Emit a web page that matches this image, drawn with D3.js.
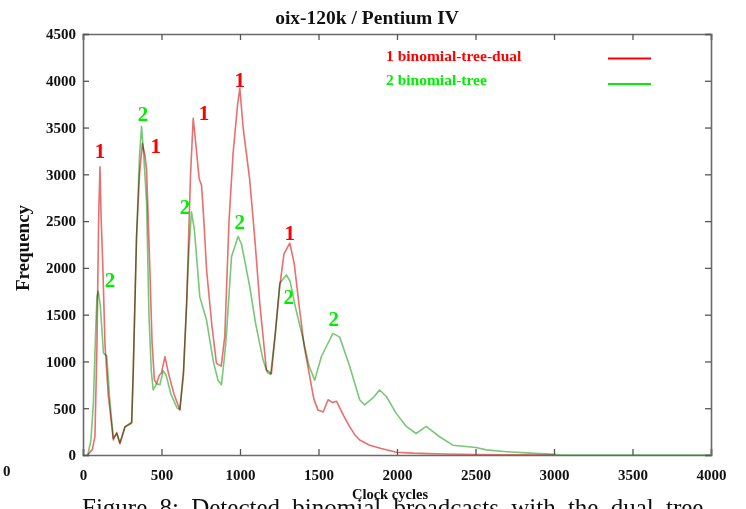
<!DOCTYPE html>
<html>
<head>
<meta charset="utf-8">
<script src="https://cdn.jsdelivr.net/npm/d3@7/dist/d3.min.js"></script>
<style>
  body { margin: 0; background: #fff; }
  svg { display: block; }
  text { font-family: "Liberation Serif", "Times New Roman", serif; }
</style>
</head>
<body>
<svg id="chart" width="746" height="509"></svg>
<script>
// series 1: binomial-tree-dual (red)
var dualCycles = [30, 60, 76, 89, 100, 108, 115, 127, 140, 161, 193, 215, 235, 250, 267, 310, 320, 341, 360, 378, 395, 405, 426, 440, 455, 469, 485, 500, 522, 545, 580, 617, 640, 660, 685, 702, 720, 740, 755, 770, 787, 820, 850, 880, 903, 930, 956, 985, 999, 1020, 1062, 1095, 1126, 1168, 1200, 1225, 1253, 1280, 1317, 1345, 1380, 1410, 1444, 1470, 1497, 1530, 1561, 1590, 1614, 1660, 1699, 1730, 1762, 1826, 1900, 1995, 2100, 2200, 2300, 2500, 2800, 3000];
var dualFreq   = [0, 60, 200, 1180, 2560, 3080, 2560, 1980, 1180, 640, 160, 240, 120, 200, 300, 350, 900, 2330, 3000, 3330, 3200, 3045, 1980, 1200, 800, 765, 850, 880, 1050, 870, 650, 480, 900, 1620, 3000, 3600, 3300, 2950, 2885, 2500, 1980, 1400, 980, 950, 1265, 2500, 3225, 3750, 3920, 3500, 2940, 2300, 1620, 910, 870, 1300, 1800, 2150, 2265, 2050, 1550, 1150, 840, 600, 480, 460, 590, 560, 575, 420, 300, 220, 160, 105, 70, 30, 20, 15, 10, 5, 2, 0];

// series 2: binomial-tree (green)
var treeCycles = [30, 50, 66, 80, 89, 97, 110, 122, 130, 151, 170, 193, 215, 235, 250, 267, 310, 320, 341, 360, 373, 385, 405, 420, 435, 447, 469, 490, 510, 530, 560, 600, 617, 640, 660, 675, 691, 710, 744, 787, 830, 860, 882, 910, 946, 988, 1010, 1062, 1100, 1147, 1175, 1195, 1225, 1253, 1296, 1320, 1350, 1400, 1440, 1476, 1518, 1550, 1592, 1635, 1699, 1762, 1794, 1847, 1889, 1932, 1995, 2059, 2122, 2186, 2271, 2356, 2504, 2568, 2700, 2850, 3000, 3050, 4000];
var treeFreq   = [0, 150, 550, 1300, 1690, 1750, 1600, 1300, 1090, 1060, 600, 180, 230, 130, 210, 300, 340, 880, 2330, 3200, 3510, 3250, 2700, 1500, 900, 695, 760, 750, 900, 850, 650, 500, 490, 850, 1620, 2200, 2600, 2400, 1690, 1440, 1000, 800, 750, 1200, 2120, 2335, 2250, 1800, 1400, 1015, 880, 860, 1300, 1835, 1925, 1850, 1600, 1250, 950, 800, 1050, 1160, 1300, 1260, 945, 590, 535, 610, 695, 625, 445, 305, 230, 305, 195, 105, 80, 55, 35, 20, 8, 0, 0];

// peak markers drawn on the plot ("1" / "2")
var dualMarkCycles = [108, 464, 770, 999, 1317];
var dualMarkFreq   = [3245, 3300, 3655, 4010, 2373];
var treeMarkCycles = [382, 172, 649, 999, 1310, 1597];
var treeMarkFreq   = [3645, 1870, 2650, 2490, 1690, 1454];

var xTicks = [0, 500, 1000, 1500, 2000, 2500, 3000, 3500, 4000];
var yTicks = [0, 500, 1000, 1500, 2000, 2500, 3000, 3500, 4000, 4500];

var legendNames = ["1 binomial-tree-dual", "2 binomial-tree"];
var colors = ["#e8706e", "#78c878"];
var pureColors = ["#ff0000", "#00ee00"];

var svg = d3.select("#chart");

var x = d3.scaleLinear().domain([0, 4000]).range([83, 711]);
var y = d3.scaleLinear().domain([0, 4500]).range([455, 34]);

var plot = svg.append("g").attr("class", "plot");

// series lines
var line = d3.line()
  .x(function(d) { return x(d[0]); })
  .y(function(d) { return y(d[1]); });

var series = [
  d3.zip(dualCycles, dualFreq),
  d3.zip(treeCycles, treeFreq)
];

plot.selectAll("path.series")
  .data(series)
  .enter().append("path")
  .attr("class", "series")
  .attr("fill", "none")
  .attr("stroke", function(d, i) { return colors[i]; })
  .attr("stroke-width", 1.6)
  .attr("stroke-linejoin", "round")
  .style("mix-blend-mode", "multiply")
  .attr("d", line);

// frame + inward ticks on all four sides
var frame = svg.append("g").attr("class", "frame");

frame.append("g")
  .attr("transform", "translate(0," + y(0) + ")")
  .call(d3.axisBottom(x).tickValues(xTicks).tickSize(-6).tickPadding(14).tickFormat(d3.format("d")));
frame.append("g")
  .attr("transform", "translate(0," + y(4500) + ")")
  .call(d3.axisTop(x).tickValues(xTicks).tickSize(-6).tickFormat(""));
frame.append("g")
  .attr("transform", "translate(" + x(0) + ",0)")
  .call(d3.axisLeft(y).tickValues(yTicks).tickSize(-6).tickPadding(7).tickFormat(d3.format("d")));
frame.append("g")
  .attr("transform", "translate(" + x(4000) + ",0)")
  .call(d3.axisRight(y).tickValues(yTicks).tickSize(-6).tickFormat(""));

frame.selectAll(".domain").attr("stroke", "#6a6a6a").attr("stroke-width", 1.6);
frame.selectAll(".tick line").attr("stroke", "#555").attr("stroke-width", 1.3);
frame.selectAll(".tick text")
  .attr("fill", "#111")
  .style("font-size", "15px")
  .style("font-weight", "bold")
  .style("font-family", "'Liberation Serif', serif");

// peak markers
var marks = [
  { c: dualMarkCycles, f: dualMarkFreq, label: "1", color: pureColors[0] },
  { c: treeMarkCycles, f: treeMarkFreq, label: "2", color: pureColors[1] }
];
marks.forEach(function(m) {
  svg.append("g").selectAll("text")
    .data(d3.zip(m.c, m.f))
    .enter().append("text")
    .attr("x", function(d) { return x(d[0]); })
    .attr("y", function(d) { return y(d[1]) + 7; })
    .attr("text-anchor", "middle")
    .attr("fill", m.color)
    .style("font-size", "21px")
    .style("font-weight", "bold")
    .text(m.label);
});

// legend
var legend = svg.append("g").attr("class", "legend");
legendNames.forEach(function(name, i) {
  var ly = [56, 80][i];
  legend.append("text")
    .attr("x", 386).attr("y", ly + 5)
    .attr("fill", pureColors[i])
    .style("font-size", "15.5px")
    .style("font-weight", "bold")
    .text(name);
  legend.append("line")
    .attr("x1", 608).attr("x2", 651)
    .attr("y1", [58.5, 84][i]).attr("y2", [58.5, 84][i])
    .attr("stroke", pureColors[i])
    .attr("stroke-width", 2.2);
});

// titles
svg.append("text")
  .attr("x", 367).attr("y", 24)
  .attr("text-anchor", "middle")
  .style("font-size", "19.5px")
  .style("font-weight", "bold")
  .attr("fill", "#111")
  .text("oix-120k / Pentium IV");

svg.append("text")
  .attr("transform", "translate(29,248) rotate(-90)")
  .attr("text-anchor", "middle")
  .style("font-size", "19px")
  .style("font-weight", "bold")
  .attr("fill", "#111")
  .text("Frequency");

svg.append("text")
  .attr("x", 390).attr("y", 499)
  .attr("text-anchor", "middle")
  .style("font-size", "14.5px")
  .style("font-weight", "bold")
  .attr("fill", "#111")
  .text("Clock cycles");

// stray "0" at far left
svg.append("text")
  .attr("x", 3).attr("y", 476)
  .style("font-size", "15px")
  .style("font-weight", "bold")
  .attr("fill", "#111")
  .text("0");

// caption, cut off by the bottom edge
svg.append("text")
  .attr("x", 82).attr("y", 516)
  .style("font-size", "25px")
  .style("word-spacing", "6px")
  .attr("fill", "#111")
  .text("Figure 8:  Detected binomial broadcasts with the dual tree");
</script>
</body>
</html>
